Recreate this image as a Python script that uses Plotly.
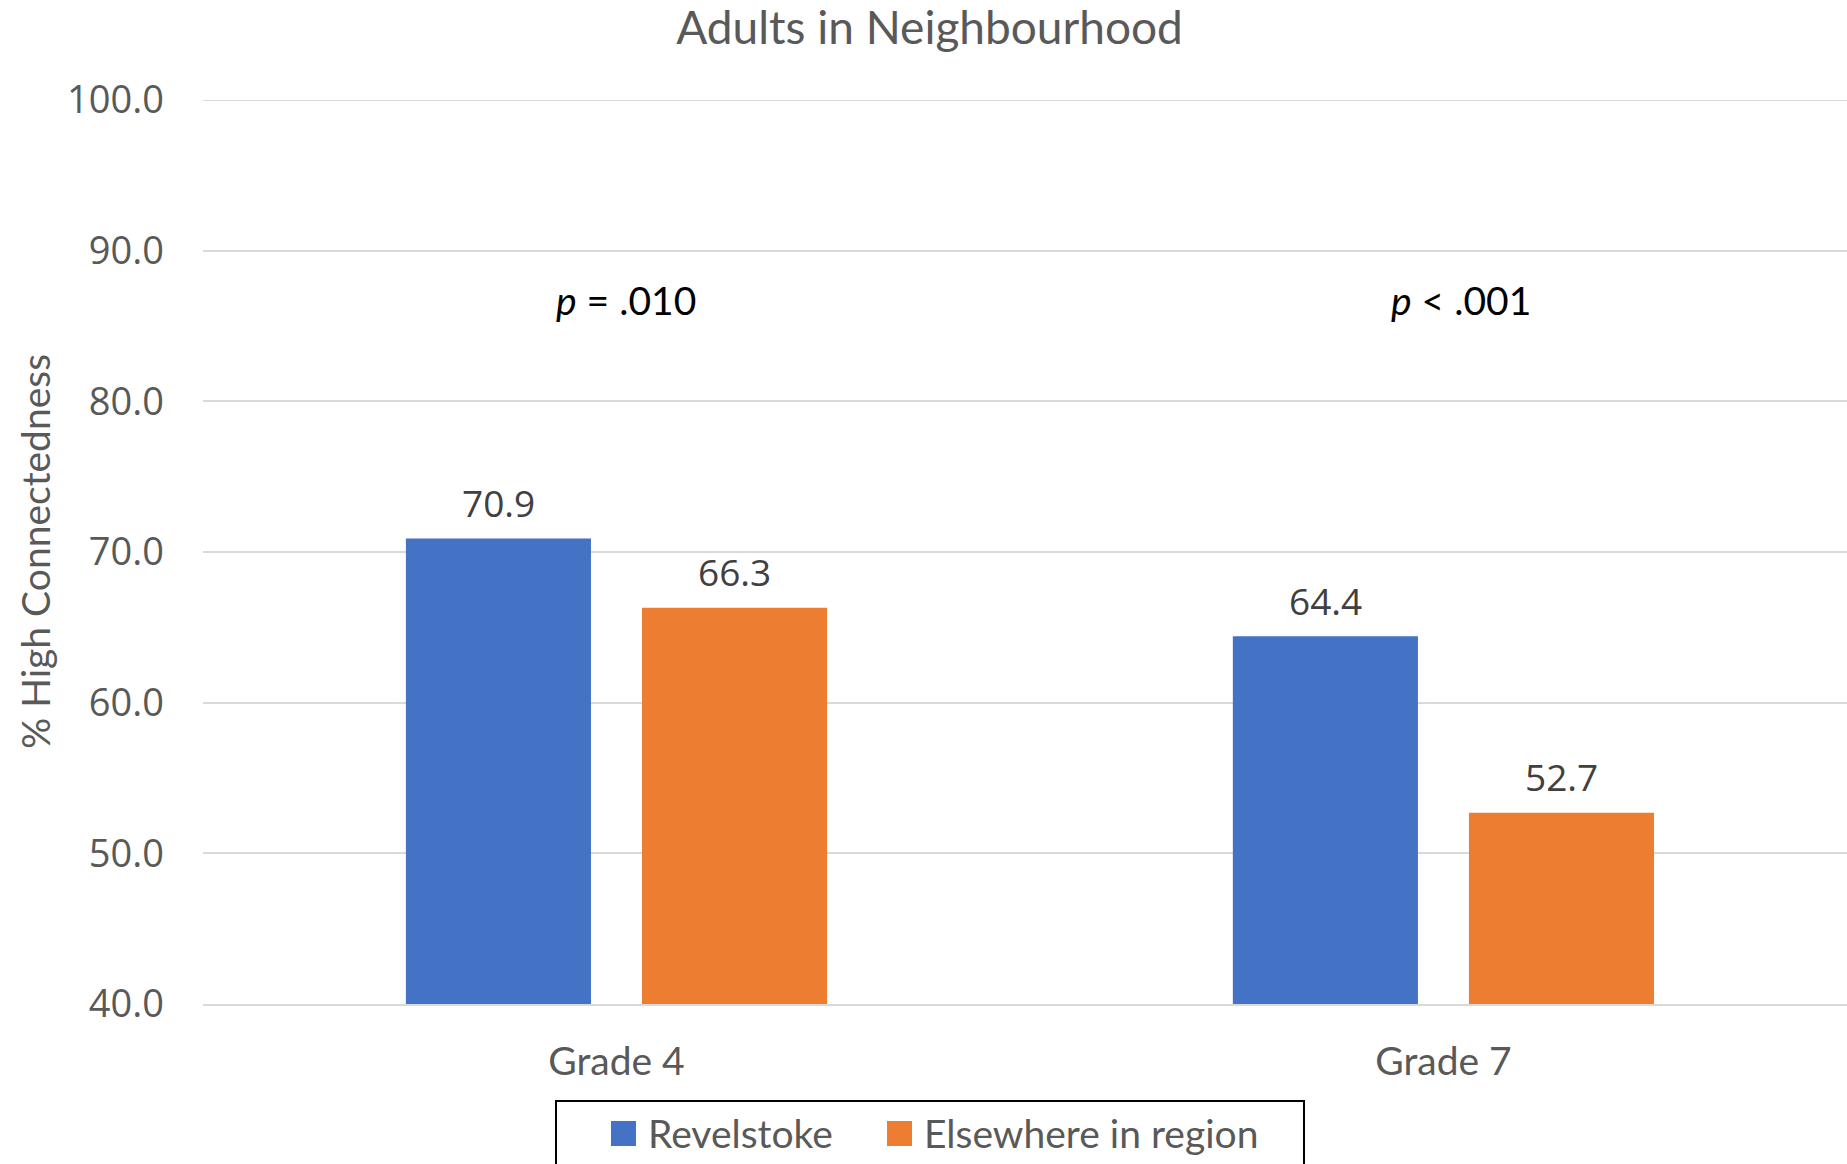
import plotly.graph_objects as go

# Chart data
grades = ["Grade 4", "Grade 7"]
series_names = ["Revelstoke", "Elsewhere in region"]
revelstoke = [70.9, 64.4]
elsewhere = [66.3, 52.7]
p_labels = ["<i>p</i> = .010", "<i>p</i> < .001"]
p_offsets = [10, 18]
y_ticks = [40, 50, 60, 70, 80, 90, 100]

colors = ["#4472C4", "#ED7D31"]
W, H = 1847, 1164
L, R, T, B = 203, 0, 100, 160
plot_w = W - L - R
plot_h = H - T - B

BARGAP = 0.429
BARGROUPGAP = 0.216

SANS_C = "Lato"
SANS_N = "Open Sans"
GREY = "#595959"


def px_x(px):
    return (px - L) / plot_w


def px_y(py):
    return (H - B - py) / plot_h


fig = go.Figure()
all_series = [revelstoke, elsewhere]
for name, vals, col in zip(series_names, all_series, colors):
    fig.add_trace(go.Bar(
        x=grades, y=vals, name=name,
        marker=dict(color=col, line=dict(width=0)),
        showlegend=False,
    ))

# value labels above each bar, centred on the bar's slot within its group
slot = (1 - BARGAP) / len(all_series)
for k, vals in enumerate(all_series):
    dx = (k - (len(all_series) - 1) / 2) * slot
    for i, v in enumerate(vals):
        fig.add_annotation(x=i + dx, y=v, xref="x", yref="y",
                           text=f"{v:.1f}", showarrow=False,
                           yanchor="middle", yshift=36,
                           font=dict(family=SANS_N, size=37, color="#404040"))

# p-value notes above each grade
for g, txt, dx in zip(grades, p_labels, p_offsets):
    fig.add_annotation(x=g, y=86.7, xref="x", yref="y", text=txt,
                       showarrow=False, xshift=dx,
                       font=dict(family=SANS_C, size=39, color="#000000"))

# y-axis title
fig.add_annotation(x=px_x(35), y=0.5, xref="paper", yref="paper",
                   text="% High Connectedness", textangle=-90,
                   showarrow=False, xanchor="center", yanchor="middle",
                   font=dict(family=SANS_C, size=39, color=GREY))

# top gridline at the upper end of the axis
shapes = [dict(type="line", xref="paper", yref="y", x0=0, x1=1,
               y0=y_ticks[-1], y1=y_ticks[-1],
               line=dict(color="#D9D9D9", width=2), layer="below")]

# legend box with swatches
shapes.append(dict(type="rect", xref="paper", yref="paper",
                   x0=px_x(556), x1=px_x(1304), y0=px_y(1180), y1=px_y(1101),
                   line=dict(color="#000000", width=2), fillcolor="white"))
sw_x = [611, 887]
tx_x = [646, 922]
for col, name, sx, tx in zip(colors, series_names, sw_x, tx_x):
    shapes.append(dict(type="rect", xref="paper", yref="paper",
                       x0=px_x(sx), x1=px_x(sx + 25),
                       y0=px_y(1146), y1=px_y(1121),
                       line=dict(width=0), fillcolor=col))
    fig.add_annotation(x=px_x(tx), y=px_y(1133), xref="paper", yref="paper",
                       text=name, showarrow=False, xanchor="left",
                       yanchor="middle",
                       font=dict(family=SANS_C, size=39, color=GREY))

fig.update_layout(
    width=W, height=H,
    margin=dict(l=L, r=R, t=T, b=B, autoexpand=False),
    paper_bgcolor="white", plot_bgcolor="white",
    barmode="group", bargap=BARGAP, bargroupgap=BARGROUPGAP,
    title=dict(text="Adults in Neighbourhood", x=929.5 / W, y=1 - 28 / H,
               xanchor="center", yanchor="middle",
               font=dict(family=SANS_C, size=46, color=GREY)),
    shapes=shapes,
    showlegend=False,
)
fig.update_xaxes(
    range=[-0.5, 1.488], showgrid=False, ticks="",
    showline=True, linecolor="#D9D9D9", linewidth=2,
    tickfont=dict(family=SANS_C, size=39, color=GREY),
    ticklabelstandoff=22,
)
fig.update_yaxes(
    range=[40, 100], tickvals=y_ticks, tickformat=".1f",
    showgrid=True, gridcolor="#D9D9D9", gridwidth=2,
    zeroline=False, showline=False, ticks="",
    tickfont=dict(family=SANS_N, size=38, color=GREY),
    ticklabelstandoff=38,
)

fig.write_html("out.html")
